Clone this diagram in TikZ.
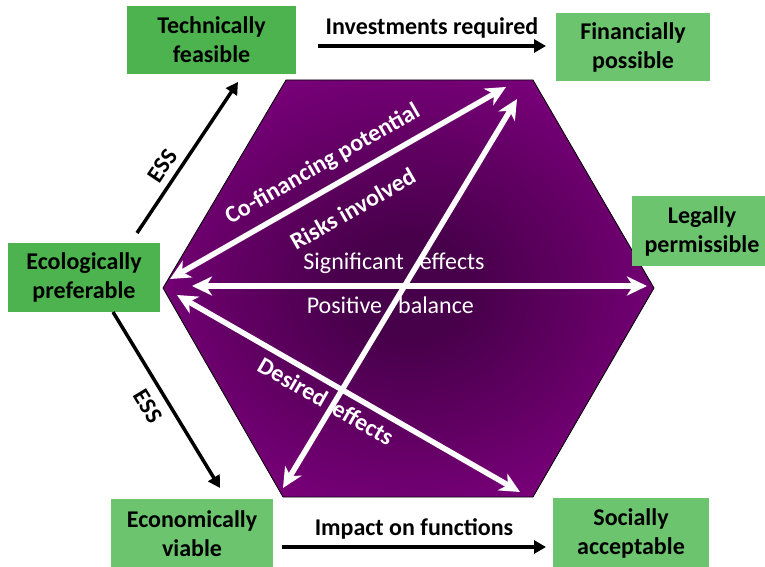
\documentclass[tikz,border=0pt]{standalone}
\usepackage{fontspec}
\setmainfont{Carlito}
\usepackage{tikz}
\usetikzlibrary{arrows.meta,shapes}
\definecolor{green1}{HTML}{4DB34F}
\definecolor{green2}{HTML}{6CC46F}
\definecolor{hex1}{HTML}{800080}
\definecolor{hex2}{HTML}{47004A}
\pgfdeclareradialshading{hexshade}{\pgfpoint{0bp}{0bp}}{color(0bp)=(hex2); color(6bp)=(hex2); color(31bp)=(hex1); color(50bp)=(hex1)}

\begin{document}
\begin{tikzpicture}[x=1pt, y=-1pt,
	box/.style={fill=green2, inner sep=0pt, align=center, font=\fontsize{24}{29}\selectfont\bfseries},
	darkbox/.style={box, fill=green1},
	warrow/.style={white, line width=5.5pt, {Stealth[length=20pt,width=19pt,inset=6pt]}-{Stealth[length=20pt,width=19pt,inset=6pt]}},
	barrow/.style={black, line width=3.5pt, -{Triangle[length=12pt,width=13pt]}},
	wlabel/.style={white, sloped, inner sep=0.5pt, font=\fontsize{24}{28}\selectfont\bfseries},
	wtext/.style={white, inner sep=0.5pt, font=\fontsize{24}{28}\selectfont},
	blabel/.style={black, inner sep=0.5pt, font=\fontsize{24}{28}\selectfont\bfseries}]
	
	\useasboundingbox (0,0) rectangle (765,567);
	
	% hexagon
	\shadedraw[shading=hexshade, draw=black, line width=0.8pt] (286,80) -- (533,80) -- (654,288) -- (533,497) -- (283,497) -- (163,288) -- cycle;
	
	\coordinate (cfA) at (170,279);
	\coordinate (cfB) at (506,87);
	\coordinate (crA) at (517,99);
	\coordinate (crB) at (283,488);
	\coordinate (hzA) at (192,286);
	\coordinate (hzB) at (647,286);
	\coordinate (deA) at (177,295);
	\coordinate (deB) at (520,492);
	
	\draw[warrow] (cfA) -- node[wlabel, pos=0.49, above=10pt] (cofin) {Co-financing potential}
		node[wlabel, pos=0.50, below=18pt] (risks) {Risks involved} (cfB);
	\draw[warrow] (crA) -- (crB);
	\draw[warrow] (hzA) -- node[wtext, pos=0.444, above=9pt] (sig) {Significant\hspace{16pt}effects}
		node[wtext, pos=0.436, below=8pt] (posbal) {Positive\hspace{16pt}balance} (hzB);
	\draw[warrow] (deA) -- node[wlabel, pos=0.46, below=6pt] (desired) {Desired\hspace{10pt}effects} (deB);
	
	% boxes
	\node[darkbox, minimum width=169pt, minimum height=68pt] (tech) at (211.5,40) {Technically\\feasible};
	\node[box, minimum width=154pt, minimum height=68pt] (fin) at (633,47) {Financially\\possible};
	\node[box, minimum width=140pt, minimum height=70pt] (legal) at (702,231) {Legally\\permissible};
	\node[darkbox, minimum width=152pt, minimum height=69pt] (eco) at (84,277.5) {Ecologically\\preferable};
	\node[box, minimum width=162pt, minimum height=70pt] (econ) at (192,534) {Economically\\viable};
	\node[box, minimum width=156pt, minimum height=70pt] (social) at (631,533) {Socially\\acceptable};
	
	\coordinate (invA) at (318,46);
	\coordinate (invB) at (546,46);
	\coordinate (impA) at (282,547);
	\coordinate (impB) at (546,547);
	\coordinate (essA) at (137,233);
	\coordinate (essB) at (238,82);
	\coordinate (ess2A) at (113,312);
	\coordinate (ess2B) at (220,488);
	
	\draw[barrow] (invA) -- node[blabel, above=5pt] (inv) {Investments required} (invB);
	\draw[barrow] (impA) -- node[blabel, above=5pt] (imp) {Impact on functions} (impB);
	\draw[barrow] (essA) -- node[blabel, sloped, pos=0.385, above=6pt] (ess1) {ESS} (essB);
	\draw[barrow] (ess2A) -- node[blabel, sloped, pos=0.48, below=9pt] (ess2) {ESS} (ess2B);
	
\end{tikzpicture}
\end{document}
